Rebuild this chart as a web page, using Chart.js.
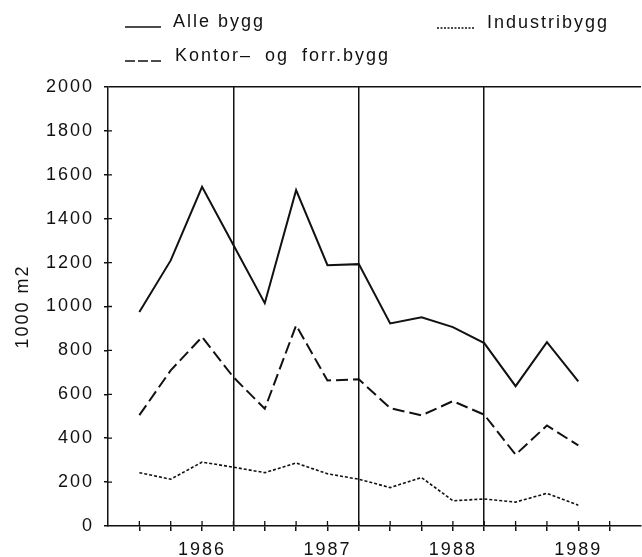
<!DOCTYPE html>
<html>
<head>
<meta charset="utf-8">
<script src="https://cdn.jsdelivr.net/npm/chart.js@4"></script>
<style>
  body { margin: 0; background: #fff; overflow: hidden; }
  #wrap { position: relative; width: 642px; height: 557px; overflow: hidden; }
  #chart { position: absolute; left: 0; top: 0; }
  .leg { position: absolute; font: 18px "Liberation Sans", Arial, sans-serif; letter-spacing: 2px;
         line-height: 18px; color: #111; white-space: pre; }
  .sample { position: absolute; }
</style>
</head>
<body>
<div id="wrap">
  <canvas id="chart" width="649" height="557"></canvas>
  <div id="legend"></div>
</div>
<script>
// kvartal nr. 1..15 (x-akse)
const quarterIndex = [1, 2, 3, 4, 5, 6, 7, 8, 9, 10, 11, 12, 13, 14, 15];

// 1000 m2
const alleBygg     = [975, 1210, 1545, 1280, 1015, 1530, 1188, 1193, 923, 951, 906, 833, 637, 838, 659];
const kontorBygg   = [505, 709, 861, 678, 534, 914, 663, 668, 537, 504, 569, 507, 325, 458, 367];
const industriBygg = [243, 213, 291, 268, 243, 287, 238, 213, 175, 221, 115, 123, 109, 149, 95];

const seriesNames = ['Alle bygg', 'Kontor– og forr.bygg', 'Industribygg'];

const yearLabels = ['1986', '1987', '1988', '1989'];
const yearLabelPos = [3, 7, 11, 15];
const yearDividers = [4, 8, 12];

const INK = '#111';
const FONT = { family: '"Liberation Sans", Arial, sans-serif', size: 18 };

function toPoints(values) {
    return quarterIndex.map((q, i) => ({ x: q, y: values[i] }));
}

// bokstavavstand som i originalen
const spacingPlugin = {
    id: 'spacing',
    beforeUpdate(chart) { chart.ctx.letterSpacing = '2px'; },
    beforeDraw(chart) { chart.ctx.letterSpacing = '2px'; }
};

// tick-streker som krysser aksene
const innerTicks = {
    id: 'innerTicks',
    afterDraw(chart) {
        const ctx = chart.ctx;
        const xs = chart.scales.x, ys = chart.scales.y;
        ctx.save();
        ctx.strokeStyle = INK;
        ctx.lineWidth = 1.3;
        ctx.beginPath();
        for (let v = 1; v <= 16; v++) {
            const px = xs.getPixelForValue(v);
            ctx.moveTo(px, ys.bottom);
            ctx.lineTo(px, ys.bottom - 5);
        }
        for (let v = 200; v < 2000; v += 200) {
            const py = ys.getPixelForValue(v);
            ctx.moveTo(xs.left, py);
            ctx.lineTo(xs.left + 4, py);
        }
        ctx.stroke();
        ctx.restore();
    }
};

const datasets = [
    { label: seriesNames[0], data: toPoints(alleBygg), borderColor: INK, borderWidth: 2, borderDash: [] },
    { label: seriesNames[1], data: toPoints(kontorBygg), borderColor: INK, borderWidth: 2, borderDash: [12, 5] },
    { label: seriesNames[2], data: toPoints(industriBygg), borderColor: INK, borderWidth: 1.6, borderDash: [3, 2] }
];
datasets.forEach(d => { d.pointRadius = 0; d.tension = 0; d.fill = false; });

new Chart(document.getElementById('chart'), {
    type: 'line',
    data: { datasets: datasets },
    plugins: [spacingPlugin, innerTicks],
    options: {
        responsive: false,
        animation: false,
        events: [],
        layout: { padding: { top: 87, left: 0, right: 0, bottom: 0 } },
        plugins: { legend: { display: false }, tooltip: { enabled: false } },
        scales: {
            x: {
                type: 'linear',
                min: 0,
                max: 17,
                afterFit: s => { s.height = 31; },
                ticks: {
                    stepSize: 1,
                    autoSkip: false,
                    maxRotation: 0,
                    padding: 8,
                    color: INK,
                    font: FONT,
                    callback: v => {
                        const i = yearLabelPos.indexOf(v);
                        return i >= 0 ? yearLabels[i] : '';
                    }
                },
                grid: {
                    color: c => (c.tick && yearDividers.includes(c.tick.value)) ? INK : 'rgba(0,0,0,0)',
                    tickColor: c => (c.tick && c.tick.value >= 1 && c.tick.value <= 16) ? INK : 'rgba(0,0,0,0)',
                    lineWidth: 1.5,
                    tickLength: 5
                },
                border: { color: INK, width: 1.5 }
            },
            y: {
                min: 0,
                max: 2000,
                afterFit: s => { s.width = 108; },
                ticks: { stepSize: 200, padding: 10, color: INK, font: FONT, callback: v => String(v) },
                grid: {
                    color: c => (c.tick && c.tick.value === 2000) ? INK : 'rgba(0,0,0,0)',
                    tickColor: INK,
                    lineWidth: 1.5,
                    tickLength: 4
                },
                border: { color: INK, width: 1.5 },
                title: { display: true, text: '1000 m2', color: INK, font: FONT, padding: { top: 12, bottom: 0 } }
            }
        }
    }
});

// legende (HTML)
const legendSpots = [
    { line: [125, 27, 36], text: [173, 27] },
    { line: [125, 61, 36], text: [175, 61] },
    { line: [437, 28, 38], text: [487, 28] }
];
const legend = document.getElementById('legend');
datasets.forEach((d, i) => {
    const spot = legendSpots[i];
    const svgNS = 'http://www.w3.org/2000/svg';
    const svg = document.createElementNS(svgNS, 'svg');
    svg.setAttribute('class', 'sample');
    svg.setAttribute('width', spot.line[2]);
    svg.setAttribute('height', 4);
    svg.style.left = spot.line[0] + 'px';
    svg.style.top = (spot.line[1] - 2) + 'px';
    const ln = document.createElementNS(svgNS, 'line');
    ln.setAttribute('x1', 0); ln.setAttribute('x2', spot.line[2]);
    ln.setAttribute('y1', 2); ln.setAttribute('y2', 2);
    ln.setAttribute('stroke', INK);
    ln.setAttribute('stroke-width', d.borderWidth > 1.8 ? 1.6 : 1.3);
    if (i === 1) ln.setAttribute('stroke-dasharray', '10 3');
    if (i === 2) ln.setAttribute('stroke-dasharray', '2 1.5');
    svg.appendChild(ln);
    legend.appendChild(svg);

    const t = document.createElement('div');
    t.className = 'leg';
    t.textContent = d.label;
    if (i === 1) t.style.wordSpacing = '6px';
    t.style.left = spot.text[0] + 'px';
    t.style.top = (spot.text[1] - 15) + 'px';
    legend.appendChild(t);
});
</script>
</body>
</html>
